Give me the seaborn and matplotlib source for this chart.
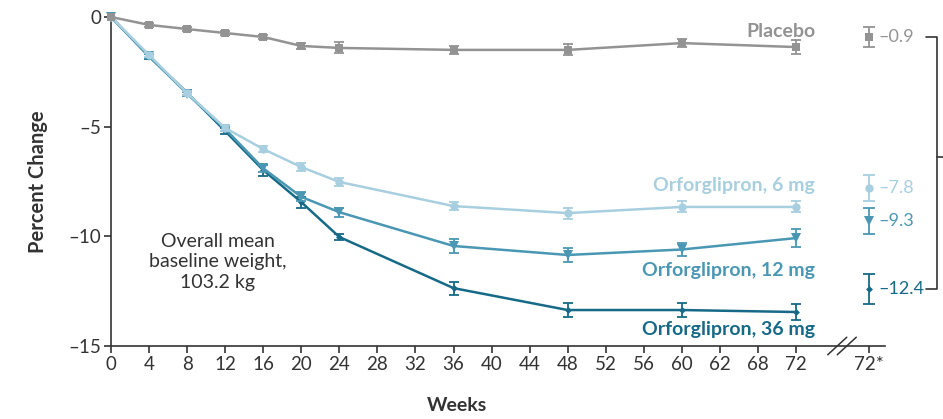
import matplotlib
matplotlib.use("Agg")
import matplotlib.pyplot as plt
import seaborn as sns
import pandas as pd
import numpy as np

# Body-weight change over time by treatment group
weeks = [0, 4, 8, 12, 16, 20, 24, 36, 48, 60, 72]
placebo = [0, -0.36, -0.55, -0.73, -0.91, -1.32, -1.41, -1.50, -1.50, -1.19, -1.37]
orf_6 = [0, -1.73, -3.47, -5.06, -6.02, -6.84, -7.52, -8.62, -8.94, -8.66, -8.66]
orf_12 = [0, -1.78, -3.50, -5.10, -6.90, -8.20, -8.90, -10.44, -10.85, -10.60, -10.08]
orf_36 = [0, -1.80, -3.45, -5.20, -6.98, -8.44, -10.03, -12.36, -13.36, -13.36, -13.45]

se_placebo = [0, 0.08, 0.08, 0.1, 0.1, 0.15, 0.25, 0.2, 0.25, 0.2, 0.3]
se_6 = [0, 0.1, 0.1, 0.12, 0.12, 0.2, 0.2, 0.2, 0.25, 0.25, 0.25]
se_12 = [0, 0.1, 0.1, 0.12, 0.15, 0.2, 0.2, 0.3, 0.3, 0.3, 0.4]
se_36 = [0, 0.1, 0.1, 0.12, 0.25, 0.25, 0.15, 0.3, 0.3, 0.3, 0.35]

# Week 72 estimates (treatment-regimen estimand)
groups = ["Placebo", "Orforglipron, 6 mg", "Orforglipron, 12 mg", "Orforglipron, 36 mg"]
final_values = [-0.9, -7.8, -9.3, -12.4]
final_se = [0.45, 0.6, 0.6, 0.7]

xtick_pos = list(range(0, 73, 4))
xtick_labels = [str(w) for w in xtick_pos]
xtick_labels[16] = "62"
star_label = "72*"

colors = ["#939393", "#a8cfe0", "#4a97b4", "#166a87"]
markers = ["s", "o", "v", "D"]
msizes = [5.5, 6, 6.5, 3.5]
series = [placebo, orf_6, orf_12, orf_36]
ses = [se_placebo, se_6, se_12, se_36]

sns.set_theme(style="white")
plt.rcParams["font.family"] = ["Lato", "DejaVu Sans"]

W, H = 943, 419
fig = plt.figure(figsize=(W / 100, H / 100), dpi=100)
px_per_week = (796 - 111) / 72
px_per_unit = (346 - 17) / 15
ax = fig.add_axes([111 / W, 1 - 346 / H, (W - 111) / W, 346 / H])
ax.set_xlim(0, (W - 111) / px_per_week)
ax.set_ylim(-15, 17 / px_per_unit)

rows = []
for g, vals in zip(groups, series):
    for w, v in zip(weeks, vals):
        rows.append({"Week": w, "Change": v, "Group": g})
df = pd.DataFrame(rows)

# Lines in reverse so the lighter groups sit on top at the start
for g, c, m, ms, s, e in list(zip(groups, colors, markers, msizes, series, ses))[::-1]:
    sub = df[df["Group"] == g]
    sns.lineplot(data=sub, x="Week", y="Change", color=c, marker=m,
                 markersize=ms, markeredgewidth=0, linewidth=1.8, ax=ax,
                 legend=False, clip_on=False, zorder=3)
    ax.errorbar(weeks[1:], s[1:], yerr=e[1:], fmt="none", ecolor=c,
                elinewidth=1.3, capsize=3.5, capthick=1.3, zorder=3)

# Separate week-72 estimates beyond the axis break
star_x = (869 - 111) / px_per_week
for c, m, ms, v, e in zip(colors, markers, msizes, final_values, final_se):
    ax.errorbar([star_x], [v], yerr=[e], fmt="none", ecolor=c,
                elinewidth=1.3, capsize=4, capthick=1.3, zorder=3)
    ax.plot([star_x], [v], marker=m, color=c, markersize=ms,
            markeredgewidth=0, zorder=4)
    ax.text(star_x + 1.0, v, f"\u2013{abs(v):.1f}",
            color=c, fontsize=13, va="center", ha="left")

# Comparison bracket on the right
bx = (937 - 111) / px_per_week
bx0 = (926 - 111) / px_per_week
ax.plot([bx0, bx, bx, bx0], [final_values[0], final_values[0],
                             final_values[3], final_values[3]],
        color="#333333", lw=1.2, clip_on=False)
ax.plot([bx, bx + 1], [-6.38, -6.38], color="#333333", lw=1.2, clip_on=False)

# Axes styling
for side in ["top", "right"]:
    ax.spines[side].set_visible(False)
axis_end = (885 - 111) / px_per_week
ax.spines["left"].set_bounds(-15, 0)
ax.spines["bottom"].set_bounds(0, axis_end)
for side in ["left", "bottom"]:
    ax.spines[side].set_color("#333333")
    ax.spines[side].set_linewidth(1.2)

ax.set_yticks([0, -5, -10, -15])
ax.set_yticklabels(["0", "\u20135", "\u201310", "\u201315"])
ax.set_xticks(xtick_pos + [star_x])
ax.set_xticklabels(xtick_labels + [star_label])
ax.tick_params(axis="both", which="both", direction="out", length=5, width=1.2,
               color="#333333", labelsize=13.5, labelcolor="#333333", pad=2,
               left=True, bottom=True)

# Axis break marks
brk = (842 - 111) / px_per_week
ax.plot([brk - 0.6, brk + 0.6], [-15, -15], color="white", lw=2.5,
        clip_on=False, zorder=2)
for off in (-0.5, 0.5):
    ax.plot([brk + off - 1.0, brk + off + 1.0], [-15.4, -14.6],
            color="#333333", lw=1.1, clip_on=False, zorder=3)

ax.set_xlabel("")
ax.set_ylabel("")
fig.text(38 / W, 1 - 182 / H, "Percent Change", rotation=90, fontsize=14.5,
         fontweight="bold", color="#333333", ha="center", va="center")
fig.text(457 / W, 1 - 405 / H, "Weeks", fontsize=14, fontweight="bold",
         color="#333333", ha="center", va="center")

ax.text((218 - 111) / px_per_week, -11.17,
        "Overall mean\nbaseline weight,\n103.2 kg", fontsize=14,
        color="#333333", ha="center", va="center", linespacing=1.25)

label_x = (815 - 111) / px_per_week
label_y = [-0.68, -7.7, -11.54, -14.27]
for g, c, ly in zip(groups, colors, label_y):
    ax.text(label_x, ly, g, color=c, fontsize=14, fontweight="bold",
            ha="right", va="center")

fig.savefig("out.png", dpi=100)
